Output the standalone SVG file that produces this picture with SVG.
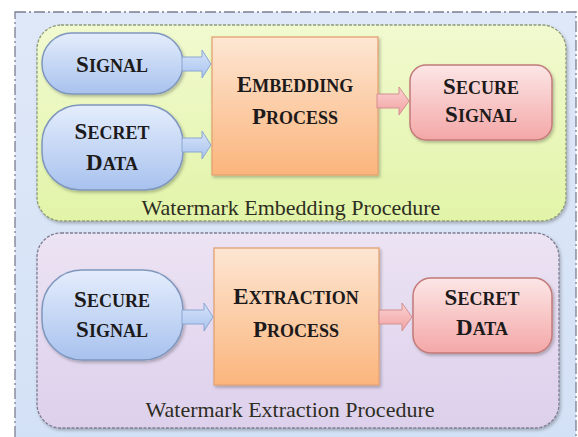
<svg xmlns="http://www.w3.org/2000/svg" width="578" height="437" viewBox="0 0 578 437">
<defs>
<linearGradient id="gOuter" x1="0" y1="0" x2="0" y2="1"><stop offset="0" stop-color="#dfe8f8"/><stop offset="1" stop-color="#d3e1f6"/></linearGradient>
<linearGradient id="gGreen" x1="0" y1="0" x2="0" y2="1"><stop offset="0" stop-color="#f1fad0"/><stop offset="1" stop-color="#e2f4a8"/></linearGradient>
<linearGradient id="gPurple" x1="0" y1="0" x2="0" y2="1"><stop offset="0" stop-color="#ece3f3"/><stop offset="1" stop-color="#ddd0ec"/></linearGradient>
<linearGradient id="gBlue" x1="0" y1="0" x2="0" y2="1"><stop offset="0" stop-color="#e4edfc"/><stop offset="1" stop-color="#a8c2ee"/></linearGradient>
<linearGradient id="gOrange" x1="0" y1="0" x2="0" y2="1"><stop offset="0" stop-color="#fde6d3"/><stop offset="1" stop-color="#fbb57c"/></linearGradient>
<linearGradient id="gPink" x1="0" y1="0" x2="0" y2="1"><stop offset="0" stop-color="#fce6e6"/><stop offset="1" stop-color="#f4a7a7"/></linearGradient>
<linearGradient id="gBlueArrow" x1="0" y1="0" x2="0" y2="1"><stop offset="0" stop-color="#d6e4fa"/><stop offset="1" stop-color="#a9c3ee"/></linearGradient>
<linearGradient id="gPinkArrow" x1="0" y1="0" x2="0" y2="1"><stop offset="0" stop-color="#fbd2d2"/><stop offset="1" stop-color="#f2a2a2"/></linearGradient>
<filter id="shadow" x="-10%" y="-10%" width="125%" height="125%"><feDropShadow dx="1.5" dy="2" stdDeviation="1.5" flood-color="#000" flood-opacity="0.25"/></filter>
</defs>
<style>
text{font-family:'Liberation Serif','Times New Roman',Times,'DejaVu Serif','Noto Serif',FreeSerif,serif}
.outer{fill:url(#gOuter);stroke:#7a7f90;stroke-width:1.3;stroke-dasharray:11 3 2 3}
.panelG{fill:url(#gGreen);stroke:#8f9a78;stroke-width:1.3;stroke-dasharray:3 1.5}
.panelP{fill:url(#gPurple);stroke:#7f7c92;stroke-width:1.3;stroke-dasharray:3 1.5}
.blue{fill:url(#gBlue);stroke:#7f96bd;stroke-width:1.5}
.orange{fill:url(#gOrange);stroke:#e3a272;stroke-width:1.3}
.pink{fill:url(#gPink);stroke:#c27a7a;stroke-width:1.5}
.arrB{fill:url(#gBlueArrow);stroke:#8aa6d2;stroke-width:1}
.arrP{fill:url(#gPinkArrow);stroke:#d48f8f;stroke-width:1}
.t{font-weight:bold;fill:#1c1a1a;text-anchor:middle;font-size:18px}
.t .c{font-size:23px}
.lbl{font-size:22px;fill:#2d2d22;text-anchor:middle}
</style>
<rect x="0" y="0" width="578" height="437" fill="#ffffff"/>
<rect class="outer" x="15" y="12" width="561" height="440"/>

<g id="embedding-panel">
<rect class="panelG" x="37" y="25" width="529" height="196" rx="24" filter="url(#shadow)"/>
<text class="lbl" x="291" y="215">Watermark Embedding Procedure</text>
</g>
<g id="extraction-panel">
<rect class="panelP" x="37" y="233" width="522" height="195" rx="24" filter="url(#shadow)"/>
<text class="lbl" x="290" y="417">Watermark Extraction Procedure</text>
</g>

<g id="signal">
<rect class="blue" x="42" y="33" width="141" height="61" rx="30" filter="url(#shadow)"/>
<text class="t" x="112" y="72"><tspan class="c">S</tspan>IGNAL</text>
</g>
<g id="secret-data-in">
<rect class="blue" x="42" y="105" width="141" height="85" rx="38" filter="url(#shadow)"/>
<text class="t" x="112" y="139"><tspan class="c">S</tspan>ECRET</text>
<text class="t" x="112" y="170"><tspan class="c">D</tspan>ATA</text>
</g>
<g id="embedding-process">
<rect class="orange" x="212" y="37" width="166" height="138" filter="url(#shadow)"/>
<text class="t" x="295" y="92"><tspan class="c">E</tspan>MBEDDING</text>
<text class="t" x="295" y="124"><tspan class="c">P</tspan>ROCESS</text>
</g>
<g id="secure-signal-out">
<rect class="pink" x="410" y="65" width="142" height="75" rx="16" filter="url(#shadow)"/>
<text class="t" x="481" y="94"><tspan class="c">S</tspan>ECURE</text>
<text class="t" x="481" y="122"><tspan class="c">S</tspan>IGNAL</text>
</g>

<g id="secure-signal-in">
<rect class="blue" x="42" y="270" width="141" height="90" rx="40" filter="url(#shadow)"/>
<text class="t" x="112" y="307"><tspan class="c">S</tspan>ECURE</text>
<text class="t" x="112" y="337"><tspan class="c">S</tspan>IGNAL</text>
</g>
<g id="extraction-process">
<rect class="orange" x="214" y="248" width="165" height="137" filter="url(#shadow)"/>
<text class="t" x="296" y="304"><tspan class="c">E</tspan>XTRACTION</text>
<text class="t" x="296" y="337"><tspan class="c">P</tspan>ROCESS</text>
</g>
<g id="secret-data-out">
<rect class="pink" x="413" y="278" width="139" height="75" rx="18" filter="url(#shadow)"/>
<text class="t" x="482" y="305"><tspan class="c">S</tspan>ECRET</text>
<text class="t" x="482" y="335"><tspan class="c">D</tspan>ATA</text>
</g>

<g id="connectors">
<path class="arrB" d="M182,57 H202 V50 L211,64 L202,78 V71 H182 Z"/>
<path class="arrB" d="M182,138 H202 V131 L211,145 L202,159 V152 H182 Z"/>
<path class="arrP" d="M377,94 H399 V87 L409,101 L399,115 V108 H377 Z"/>
<path class="arrB" d="M182,310 H204 V303 L213,317 L204,331 V324 H182 Z"/>
<path class="arrP" d="M379,310 H402 V303 L412,317 L402,331 V324 H379 Z"/>
</g>
</svg>
